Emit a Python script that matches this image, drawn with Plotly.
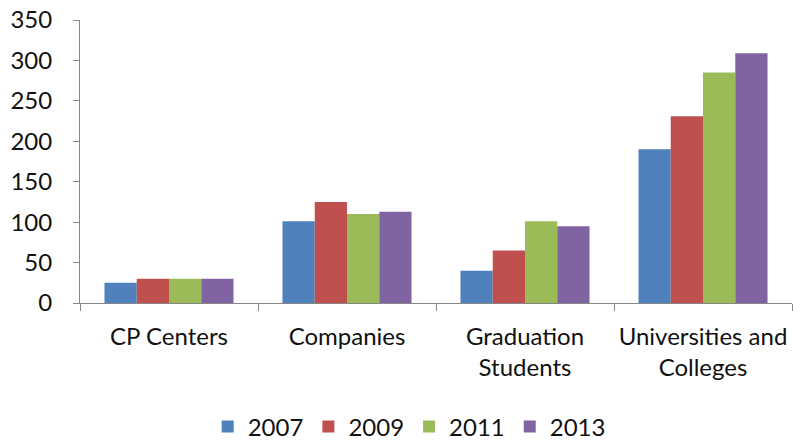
import plotly.graph_objects as go

categories = ["CP Centers", "Companies", "Graduation<br>Students", "Universities and<br>Colleges"]
years = ["2007", "2009", "2011", "2013"]
v2007 = [25, 101, 40, 190]
v2009 = [30, 125, 65, 231]
v2011 = [30, 110, 101, 285]
v2013 = [30, 113, 95, 309]
series = [v2007, v2009, v2011, v2013]
colors = ["#4F81BD", "#C0504D", "#9BBB59", "#8064A2"]
y_ticks = [0, 50, 100, 150, 200, 250, 300, 350]

fig = go.Figure()
for name, vals, c in zip(years, series, colors):
    fig.add_trace(go.Bar(x=categories, y=vals, name=name, marker_color=c,
                         marker_line_width=0))

font_family = "Lato, 'Open Sans', sans-serif"
fig.update_layout(
    width=793, height=441,
    margin=dict(l=80, r=1, t=20, b=138),
    paper_bgcolor="white", plot_bgcolor="white",
    barmode="group", bargap=0.275, bargroupgap=0,
    font=dict(family=font_family, size=24, color="#111111"),
    showlegend=True,
    legend=dict(orientation="h", xref="container", x=0.516, xanchor="center",
                yref="container", y=0.032, yanchor="middle",
                font=dict(size=24), traceorder="normal"),
)
fig.update_yaxes(range=[0, 350], tickvals=y_ticks, showgrid=False,
                 showline=True, linecolor="#868686", linewidth=1,
                 ticks="outside", ticklen=6, tickcolor="#868686",
                 zeroline=False, tickfont=dict(size=24), automargin=False,
                 ticklabelstandoff=16)
fig.update_xaxes(showline=True, linecolor="#868686", linewidth=1,
                 ticks="outside", ticklen=7, tickcolor="#868686",
                 tickson="boundaries", tickfont=dict(size=24), automargin=False,
                 ticklabelstandoff=12)

post = (
    "var s=document.createElement('style');"
    "s.textContent='html,body{margin:0;padding:0;width:793px;height:441px;overflow:hidden;}"
    "body>div{height:441px;overflow:hidden;line-height:0;}';"
    "document.head.appendChild(s);"
)
fig.write_html("out.html", config={"displayModeBar": False}, post_script=post)
